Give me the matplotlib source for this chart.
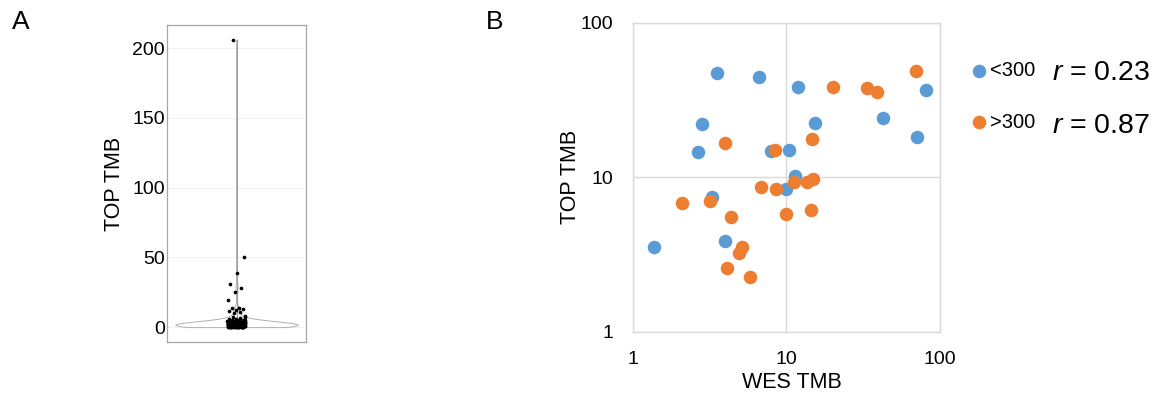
import numpy as np
import matplotlib
matplotlib.use("Agg")
import matplotlib.pyplot as plt

plt.rcParams['font.family'] = ['Liberation Sans', 'DejaVu Sans']
plt.rcParams['mathtext.fontset'] = 'custom'
plt.rcParams['mathtext.it'] = 'Liberation Sans:italic'
plt.rcParams['mathtext.rm'] = 'Liberation Sans'

# Panel A: TOP TMB values (many samples near zero, a few outliers)
top_tmb_outliers = [206.0, 50.3, 39.0, 30.7, 28.3, 25.1, 19.7, 13.9, 13.5,
                    12.9, 12.3, 11.3, 10.6, 9.8, 8.2]
top_tmb_low = [0.0, 0.1, 0.2, 0.3, 0.3, 0.4, 0.5, 0.5, 0.6, 0.7, 0.8, 0.8,
               0.9, 1.0, 1.0, 1.1, 1.2, 1.2, 1.3, 1.4, 1.5, 1.5, 1.6, 1.7,
               1.8, 1.9, 2.0, 2.0, 2.1, 2.2, 2.3, 2.4, 2.5, 2.6, 2.7, 2.8,
               2.9, 3.0, 3.1, 3.2, 3.4, 3.5, 3.7, 3.9, 4.0, 4.2, 4.5, 4.8,
               5.0, 5.3, 5.6, 6.0, 6.4, 6.9, 7.3, 0.2, 0.4, 0.6, 0.9, 1.1,
               1.3, 1.6, 1.8, 2.1, 2.4, 2.7, 3.0, 3.3, 3.6, 0.1, 0.3, 0.7,
               1.0, 1.4, 1.7, 2.2, 2.6, 3.1, 0.5, 0.8, 1.2, 1.5, 1.9, 2.3,
               0.0, 0.1, 0.2, 0.4, 0.6, 0.7, 0.9, 1.1, 1.3, 1.4, 1.6, 1.8,
               2.0, 2.2, 2.5, 2.8, 3.2, 3.6, 4.1, 4.6, 0.0, 0.2, 0.3, 0.5,
               0.6, 0.8, 1.0, 1.2, 1.5, 1.7, 1.9, 2.1, 2.4, 2.6, 2.9, 3.3,
               3.8, 4.4, 5.2, 0.1, 0.3, 0.4, 0.6, 0.9, 1.1, 1.3, 1.6, 1.8,
               2.0, 2.3, 2.7, 3.0, 3.4, 0.0, 0.2, 0.5, 0.7, 1.0, 1.4, 1.9]

# Panel B: WES TMB vs TOP TMB
wes_lt300 = [3.56, 6.64, 11.85, 80.7, 42.8, 70.8, 2.81, 15.3, 2.66, 7.95,
             10.46, 11.45, 10.0, 3.27, 3.97, 1.38]
top_lt300 = [47.0, 44.7, 38.5, 36.7, 24.0, 18.3, 22.1, 22.4, 14.5, 14.8,
             15.1, 10.2, 8.34, 7.48, 3.88, 3.55]
wes_gt300 = [69.5, 20.2, 33.3, 38.7, 14.8, 3.99, 8.48, 6.81, 8.61, 11.27,
             13.6, 14.9, 2.09, 3.17, 4.34, 10.0, 14.5, 5.12, 4.90, 4.11, 5.77]
top_gt300 = [48.9, 38.5, 37.8, 35.8, 17.7, 16.7, 15.1, 8.68, 8.34, 9.30,
             9.30, 9.68, 6.77, 7.01, 5.50, 5.78, 6.13, 3.55, 3.21, 2.57, 2.26]
group_labels = ['<300', '>300']
r_values = [0.23, 0.87]

blue = '#5B9BD5'
orange = '#ED7D31'

fig = plt.figure(figsize=(11.6, 3.97), dpi=100)

# ---- Panel A: violin + jittered points
axA = fig.add_axes([0.144, 0.1385, 0.1198, 0.7985])
vals = np.array(top_tmb_outliers + top_tmb_low)
grid_y = np.linspace(vals.min(), vals.max(), 1200)
bw = 2.2
dens = np.exp(-0.5 * ((grid_y[:, None] - vals[None, :]) / bw) ** 2).sum(axis=1)
half = dens / dens.max() * 0.44
axA.fill_betweenx(grid_y, 1 - half, 1 + half, facecolor='white',
                  edgecolor='#b0b0b0', linewidth=0.7, zorder=2)
axA.plot([1, 1], [vals.min(), vals.max()], color='#a0a0a0', lw=0.8, zorder=2)
# deterministic jitter
idx = np.arange(len(vals))
jit = ((idx * 0.618034 + 0.3) % 1 - 0.5) * 0.13
axA.scatter(1 + jit, vals, s=7, color='black', zorder=3, linewidths=0)
axA.set_xlim(0.5, 1.5)
axA.set_ylim(-10.7, 216.5)
axA.set_yticks([0, 50, 100, 150, 200])
axA.set_xticks([])
axA.tick_params(axis='y', length=0, pad=1.5, labelsize=14)
axA.grid(axis='y', color='#f2f2f2', linewidth=0.8)
axA.set_axisbelow(True)
for sp in axA.spines.values():
    sp.set_color('#a6a6a6')
    sp.set_linewidth(0.9)
axA.set_ylabel('TOP TMB', fontsize=15.5, labelpad=5.5)

# ---- Panel B: log-log scatter
axB = fig.add_axes([0.5454, 0.1645, 0.2649, 0.7783])
axB.scatter(wes_lt300, top_lt300, s=95, color=blue, zorder=3, linewidths=0,
            label=group_labels[0])
axB.scatter(wes_gt300, top_gt300, s=95, color=orange, zorder=3, linewidths=0,
            label=group_labels[1])
axB.set_xscale('log')
axB.set_yscale('log')
axB.set_xlim(1, 100)
axB.set_ylim(1, 100)
axB.set_xticks([1, 10, 100])
axB.set_xticklabels(['1', '10', '100'])
axB.set_yticks([1, 10, 100])
axB.set_yticklabels(['1', '10', '100'])
axB.minorticks_off()
axB.tick_params(length=0, labelsize=14, pad=14)
axB.grid(True, color='#d9d9d9', linewidth=1.0)
axB.set_axisbelow(True)
for sp in axB.spines.values():
    sp.set_color('#d9d9d9')
    sp.set_linewidth(1.0)
axB.set_xlabel('WES TMB', fontsize=15.5, labelpad=3)
axB.xaxis.label.set_x(0.518)
axB.set_ylabel('TOP TMB', fontsize=15.5, labelpad=0)

axB.legend(loc='center left', bbox_to_anchor=(0.835, 0.757),
           bbox_transform=fig.transFigure, frameon=False, fontsize=14.5,
           handletextpad=0.05, labelspacing=1.6, markerscale=1.0,
           borderpad=0, borderaxespad=0, handlelength=1.0)
fig.text(0.907, 0.798, '$r$ = %.2f' % r_values[0], fontsize=20.5, va='baseline')
fig.text(0.907, 0.665, '$r$ = %.2f' % r_values[1], fontsize=20.5, va='baseline')

fig.text(0.010, 0.927, 'A', fontsize=19, va='baseline')
fig.text(0.419, 0.927, 'B', fontsize=19, va='baseline')

fig.savefig('out.png', dpi=100)
